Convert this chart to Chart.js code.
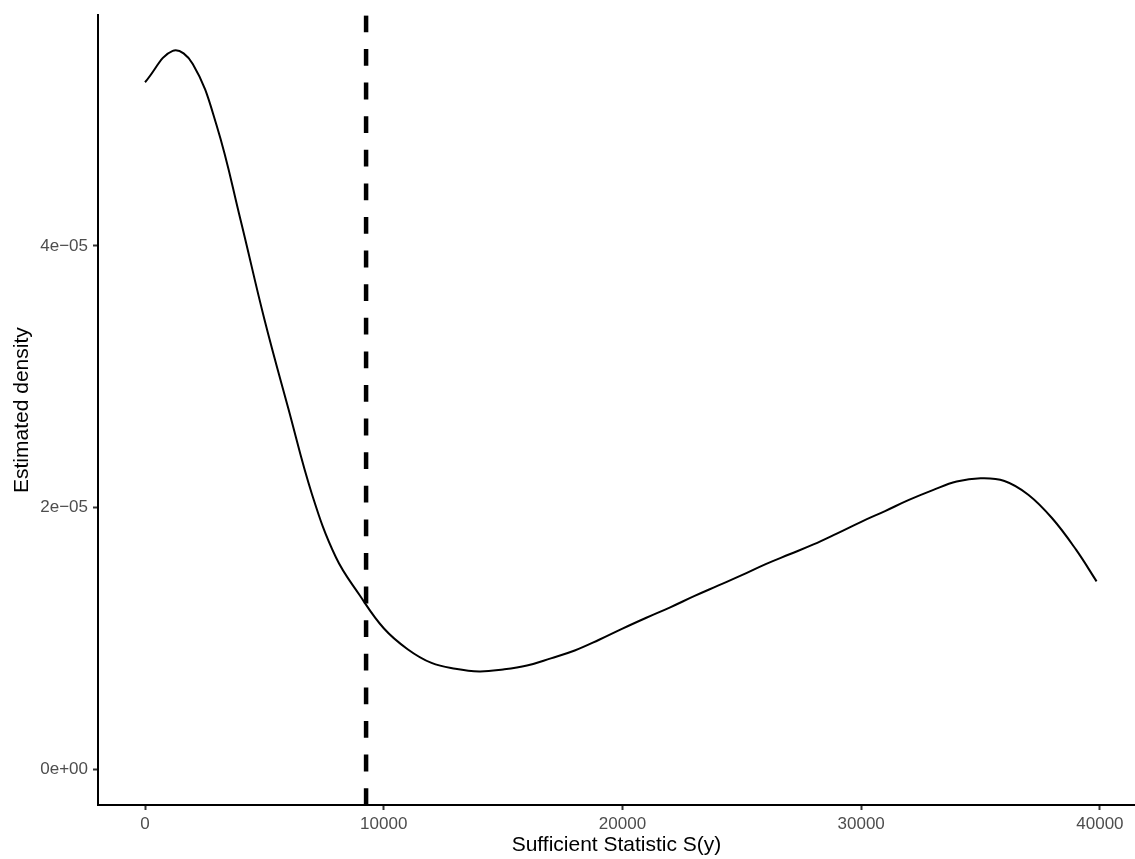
<!DOCTYPE html>
<html lang="en">
<head>
  <meta charset="UTF-8">
  <title>Estimated density of S(y)</title>
  <script src="https://cdn.jsdelivr.net/npm/chart.js"></script>
  <style>
    body {
      margin: 0;
      background-color: #fff;
    }
    .chart-container {
      width: 1135px;
      height: 859px;
    }
  </style>
</head>
<body>
  <div class="chart-container">
    <canvas id="densityChart"></canvas>
  </div>

  <script>
    // Kernel density estimate of the sufficient statistic
    const statValues = [0, 1160, 2000, 3000, 4000, 5000, 6000, 7000, 8000, 9000, 10000, 11000, 12000,
      13000, 14000, 15000, 16000, 17000, 18000, 19000, 20000, 21000, 22000, 23000, 24000, 25000,
      26000, 27000, 28000, 29000, 30000, 31000, 32000, 33000, 34000, 35000, 36000, 37000, 38000,
      39000, 39860];
    const densityValues = [5.25e-5, 5.49e-5, 5.39e-5, 4.92e-5, 4.20e-5, 3.44e-5, 2.76e-5, 2.10e-5,
      1.62e-5, 1.33e-5, 1.08e-5, 0.92e-5, 0.815e-5, 0.77e-5, 0.75e-5, 0.765e-5, 0.795e-5, 0.85e-5,
      0.91e-5, 0.99e-5, 1.077e-5, 1.16e-5, 1.24e-5, 1.325e-5, 1.405e-5, 1.485e-5, 1.57e-5, 1.645e-5,
      1.72e-5, 1.805e-5, 1.893e-5, 1.975e-5, 2.06e-5, 2.135e-5, 2.20e-5, 2.225e-5, 2.205e-5,
      2.10e-5, 1.92e-5, 1.68e-5, 1.438e-5];

    // observed value of S(y)
    const observedStat = 9260;

    const xTicks = [0, 10000, 20000, 30000, 40000];
    const yTicks = [0, 2e-5, 4e-5];
    const yTickLabels = ['0e+00', '2e\u221205', '4e\u221205'];

    const xMin = -1970, xMax = 41470;
    const yMin = -0.27e-5, yMax = 5.762e-5;

    const FONT = "'Liberation Sans', Arial, sans-serif";

    const config = {
      type: 'line',
      data: {
        datasets: [
          {
            data: statValues.map((x, i) => ({ x: x, y: densityValues[i] })),
            borderColor: '#000',
            borderWidth: 2,
            pointRadius: 0,
            tension: 0.4,
            fill: false
          },
          {
            data: [{ x: observedStat, y: yMin }, { x: observedStat, y: yMax }],
            borderColor: '#000',
            borderWidth: 4.5,
            borderDash: [16.8, 16.8],
            borderCapStyle: 'butt',
            pointRadius: 0,
            fill: false
          }
        ]
      },
      options: {
        responsive: true,
        maintainAspectRatio: false,
        animation: false,
        layout: { padding: { top: 13, left: 0, right: 0, bottom: 0 } },
        plugins: {
          legend: { display: false },
          tooltip: { enabled: false }
        },
        scales: {
          x: {
            type: 'linear',
            min: xMin,
            max: xMax,
            afterBuildTicks: scale => { scale.ticks = xTicks.map(v => ({ value: v })); },
            afterFit: scale => { scale.height = 54; },
            grid: {
              drawOnChartArea: false,
              drawTicks: true,
              tickLength: 5,
              tickWidth: 2,
              tickColor: '#333'
            },
            border: { display: true, color: '#000', width: 2 },
            ticks: {
              padding: 4,
              maxRotation: 0,
              autoSkip: false,
              color: '#4d4d4d',
              font: { family: FONT, size: 17 },
              callback: v => String(v)
            },
            title: {
              display: true,
              text: 'Sufficient Statistic S(y)',
              color: '#000',
              font: { family: FONT, size: 21 },
              padding: { top: 0, bottom: 1 }
            }
          },
          y: {
            min: yMin,
            max: yMax,
            afterBuildTicks: scale => { scale.ticks = yTicks.map(v => ({ value: v })); },
            afterFit: scale => { scale.width = 98; },
            grid: {
              drawOnChartArea: false,
              drawTicks: true,
              tickLength: 5,
              tickWidth: 2,
              tickColor: '#333'
            },
            border: { display: true, color: '#000', width: 2 },
            ticks: {
              padding: 5,
              autoSkip: false,
              color: '#4d4d4d',
              font: { family: FONT, size: 17 },
              callback: v => yTickLabels[yTicks.indexOf(v)]
            },
            title: {
              display: true,
              text: 'Estimated density',
              color: '#000',
              font: { family: FONT, size: 21 },
              padding: { top: 10, bottom: 0 }
            }
          }
        }
      }
    };

    const densityChart = new Chart(document.getElementById('densityChart'), config);
  </script>
</body>
</html>
